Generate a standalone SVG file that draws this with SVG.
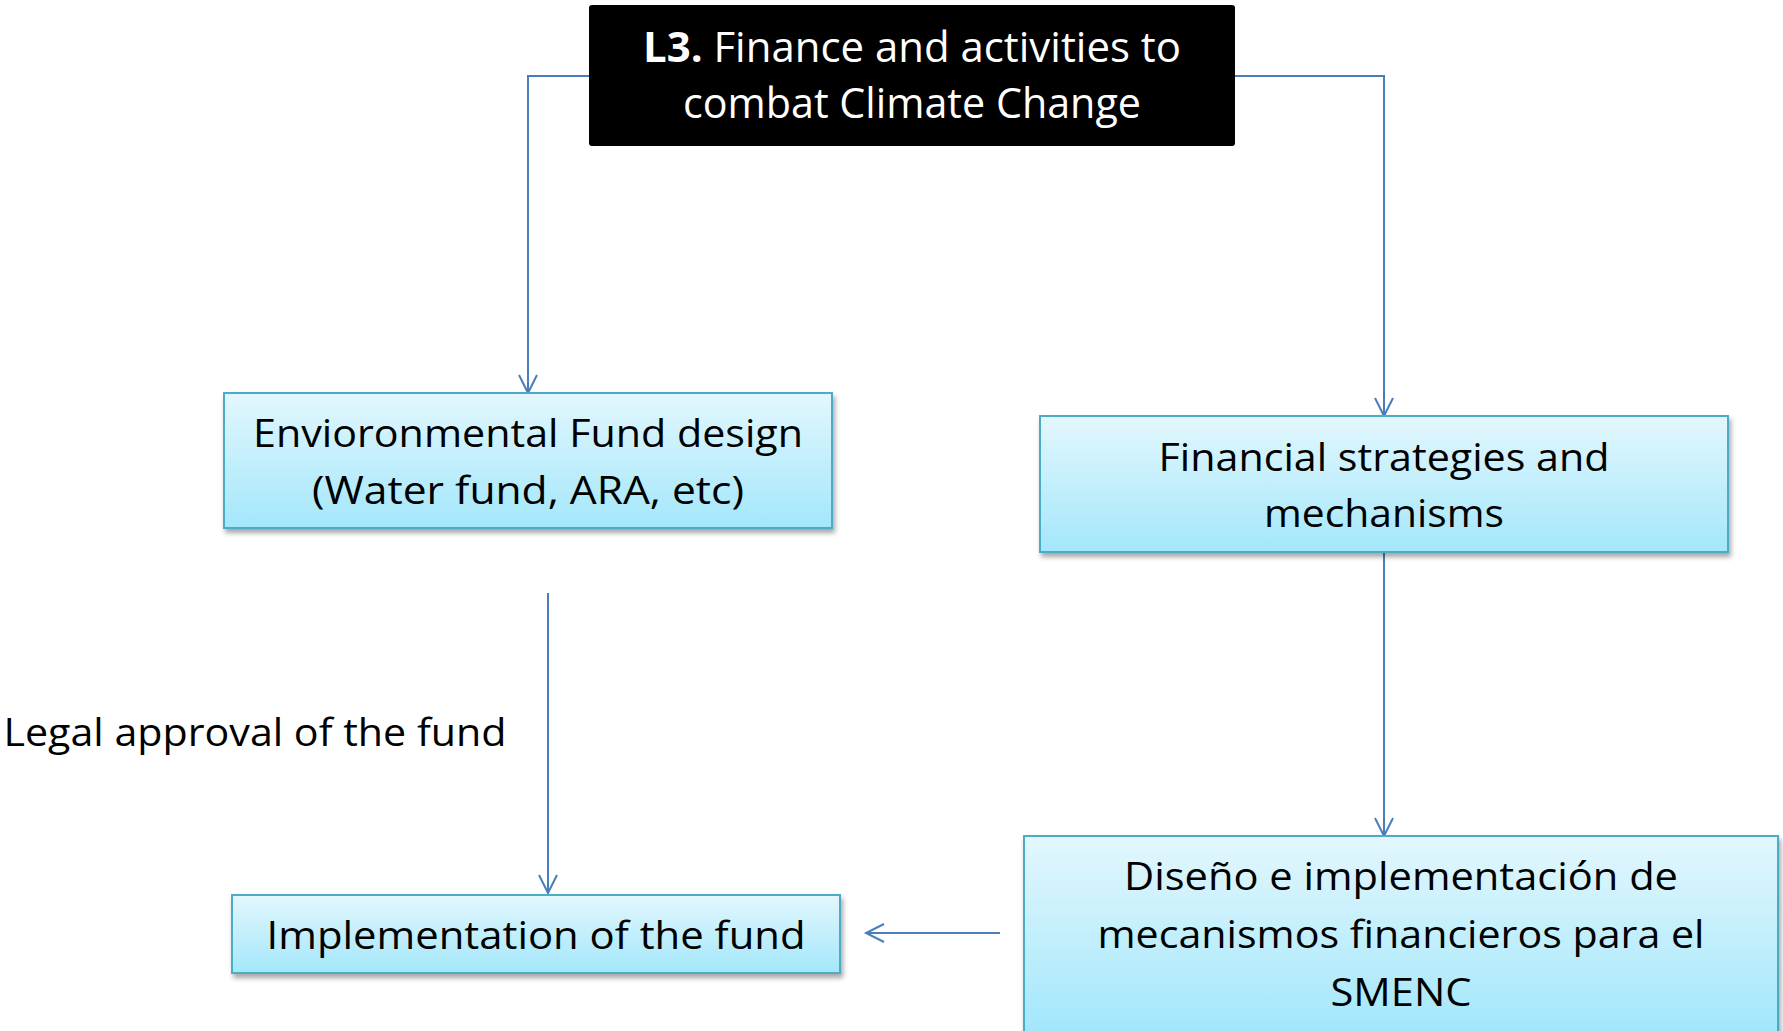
<svg xmlns="http://www.w3.org/2000/svg" width="1783" height="1031" viewBox="0 0 1783 1031">
<defs>
<linearGradient id="g" x1="0" y1="0" x2="0" y2="1">
<stop offset="0" stop-color="#e3f7fd"/>
<stop offset="1" stop-color="#a3e7fb"/>
</linearGradient>
<filter id="sh" x="-5%" y="-10%" width="110%" height="130%">
<feDropShadow dx="2" dy="4" stdDeviation="2.5" flood-color="#000" flood-opacity="0.35"/>
</filter>
<marker id="ah" markerWidth="24" markerHeight="24" refX="20" refY="12" orient="auto" markerUnits="userSpaceOnUse">
<path d="M2,3 L20,12 L2,21" fill="none" stroke="#4a7ebb" stroke-width="2"/>
</marker>
<style>
.box{fill:url(#g);stroke:#4bacc6;stroke-width:2;filter:url(#sh)}
.t{font-family:"Open Sans","Liberation Sans",sans-serif;font-size:39px;fill:#000;text-anchor:middle}
.w{font-family:"Open Sans","Liberation Sans",sans-serif;font-size:42px;fill:#fff;text-anchor:middle}
.c{fill:none;stroke:#4a7ebb;stroke-width:2;marker-end:url(#ah)}
</style>
</defs>
<g id="connectors">
<path class="c" d="M589,76 H528 V393"/>
<path class="c" d="M1235,76 H1384 V416"/>
<path class="c" d="M1384,553 V836"/>
<path class="c" d="M548,593 V893"/>
<path class="c" d="M1000,933 H866"/>
</g>
<g id="title">
<rect x="589" y="5" width="646" height="141" rx="3" fill="#000"/>
<text class="w" x="912" y="62" textLength="538" lengthAdjust="spacingAndGlyphs"><tspan font-weight="bold">L3.</tspan> Finance and activities to</text>
<text class="w" x="912" y="118" textLength="458" lengthAdjust="spacingAndGlyphs">combat Climate Change</text>
</g>
<g id="env-fund">
<rect class="box" x="224" y="393" width="608" height="135"/>
<text class="t" x="528" y="447" textLength="550" lengthAdjust="spacingAndGlyphs">Envioronmental Fund design</text>
<text class="t" x="528" y="504" textLength="432" lengthAdjust="spacingAndGlyphs">(Water fund, ARA, etc)</text>
</g>
<g id="fin-strat">
<rect class="box" x="1040" y="416" width="688" height="136"/>
<text class="t" x="1384" y="471" textLength="451" lengthAdjust="spacingAndGlyphs">Financial strategies and</text>
<text class="t" x="1384" y="527" textLength="240" lengthAdjust="spacingAndGlyphs">mechanisms</text>
</g>
<g id="legal-label">
<text class="t" x="255" y="746" textLength="503" lengthAdjust="spacingAndGlyphs">Legal approval of the fund</text>
</g>
<g id="impl-fund">
<rect class="box" x="232" y="895" width="608" height="78"/>
<text class="t" x="536" y="949" textLength="539" lengthAdjust="spacingAndGlyphs">Implementation of the fund</text>
</g>
<g id="diseno">
<rect class="box" x="1024" y="836" width="754" height="196"/>
<text class="t" x="1401" y="890" textLength="554" lengthAdjust="spacingAndGlyphs">Diseño e implementación de</text>
<text class="t" x="1401" y="948" textLength="607" lengthAdjust="spacingAndGlyphs">mecanismos financieros para el</text>
<text class="t" x="1401" y="1006" textLength="141" lengthAdjust="spacingAndGlyphs">SMENC</text>
</g>
</svg>
